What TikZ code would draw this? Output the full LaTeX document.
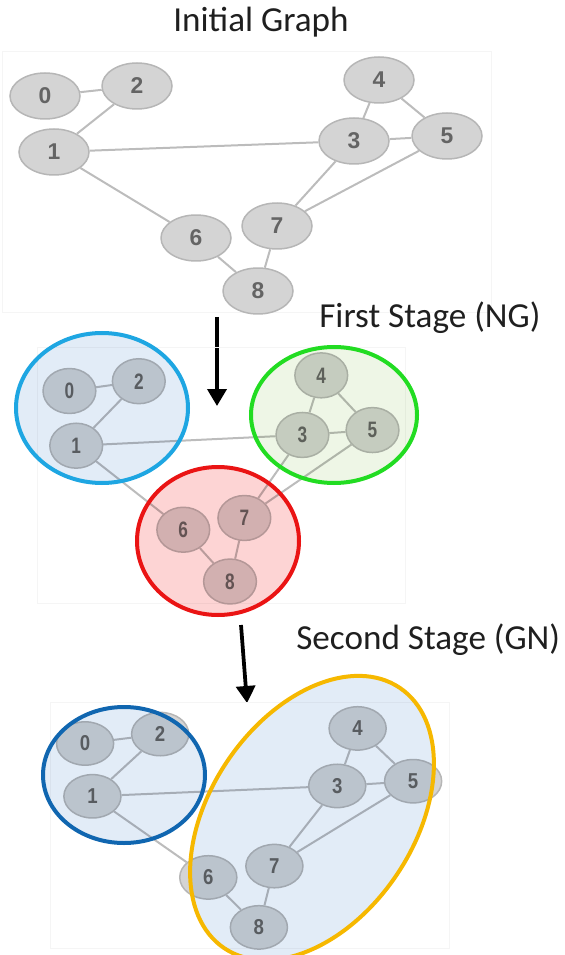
\documentclass[tikz,border=0pt]{standalone}
\usepackage{fontspec}
\setmainfont{Carlito}
\newfontfamily\digitfont{Liberation Sans}
\usetikzlibrary{shapes.geometric,arrows.meta}
\definecolor{vertfill}{RGB}{212,212,212}
\definecolor{vertline}{RGB}{182,182,182}
\definecolor{vertnum}{RGB}{100,100,100}
\definecolor{linkgray}{RGB}{188,188,188}
\definecolor{ringcyan}{RGB}{30,166,226}
\definecolor{ringgreen}{RGB}{34,220,34}
\definecolor{ringred}{RGB}{234,20,20}
\definecolor{ringblue}{RGB}{16,102,176}
\definecolor{ringyellow}{RGB}{246,184,0}
\definecolor{tintblue}{RGB}{226,236,247}
\definecolor{tintgreen}{RGB}{238,246,230}
\definecolor{tintred}{RGB}{253,212,212}
\tikzset{
	vert/.style={ellipse,draw=vertline,fill=vertfill,line width=0.03cm,minimum width=1.4cm,minimum height=0.92cm,inner sep=0pt,text=vertnum,font=\digitfont\bfseries\fontsize{13}{15}\selectfont},
	link/.style={draw=linkgray,line width=0.04cm},
	panel/.style={draw=black!4,line width=0.02cm},
	ring/.style={line width=0.08cm},
	stage/.style={inner sep=0pt,text=black!88,font=\fontsize{20}{24}\selectfont},
	down/.style={line width=0.075cm,-{Triangle[width=0.38cm,length=0.34cm]}}
}
\newcommand{\stagegraph}[1]{
	\draw [panel](0,0) rectangle (489,261);
	\node [vert] (#1n0) at (43,44) {0};
	\node [vert] (#1n2) at (135,34) {2};
	\node [vert] (#1n1) at (52,100) {1};
	\node [vert] (#1n4) at (377,28) {4};
	\node [vert] (#1n3) at (352,89) {3};
	\node [vert] (#1n5) at (445,84) {5};
	\node [vert] (#1n7) at (275,174) {7};
	\node [vert] (#1n6) at (194,186) {6};
	\node [vert] (#1n8) at (256,239) {8};
	\draw [link](#1n0)--(#1n2);
	\draw [link](#1n2)--(#1n1);
	\draw [link](#1n1)--(#1n3);
	\draw [link](#1n1)--(#1n6);
	\draw [link](#1n6)--(#1n8);
	\draw [link](#1n8)--(#1n7);
	\draw [link](#1n7)--(#1n3);
	\draw [link](#1n7)--(#1n5);
	\draw [link](#1n3)--(#1n5);
	\draw [link](#1n3)--(#1n4);
	\draw [link](#1n4)--(#1n5);
}
\begin{document}
\begin{tikzpicture}[x=0.02cm,y=-0.02cm]
	\useasboundingbox (0,0) rectangle (564,955);
	\node [stage,anchor=base] (initial) at (261,32) {Initial Graph};
	\begin{scope}[shift={(2,52)}]
		\stagegraph{a}
	\end{scope}
	\node [stage,anchor=base west] (first) at (319,328) {First Stage (NG)};
	\coordinate (down1s) at (217,317);
	\coordinate (down1e) at (217,406);
	\draw [down](down1s)--(down1e);
	\begin{scope}[shift={(37,348)},xscale=0.754,yscale=0.977,transform shape]
		\stagegraph{b}
	\end{scope}
	\begin{scope}[blend mode=multiply]
		\fill [tintblue](102,408) ellipse [x radius=86,y radius=75];
		\fill [tintgreen](334,415) ellipse [x radius=83,y radius=68];
		\fill [tintred](218,541) ellipse [x radius=81,y radius=74];
	\end{scope}
	\draw [ring,ringcyan](102,408) ellipse [x radius=86,y radius=75];
	\draw [ring,ringgreen](334,415) ellipse [x radius=83,y radius=68];
	\draw [ring,ringred](218,541) ellipse [x radius=81,y radius=74];
	\node [stage,anchor=base west] (second) at (296,649) {Second Stage (GN)};
	\coordinate (down2s) at (241,625);
	\coordinate (down2e) at (247,703);
	\draw [down](down2s)--(down2e);
	\begin{scope}[shift={(50,702)},xscale=0.816,yscale=0.943,transform shape]
		\stagegraph{c}
	\end{scope}
	\begin{scope}[blend mode=multiply]
		\fill [tintblue](124,775) ellipse [x radius=81,y radius=68];
		\fill [tintblue](312,818) ellipse [x radius=157,y radius=102,rotate=56];
	\end{scope}
	\draw [ring,ringblue](124,775) ellipse [x radius=81,y radius=68];
	\draw [ring,ringyellow](312,818) ellipse [x radius=157,y radius=102,rotate=56];
\end{tikzpicture}
\end{document}
